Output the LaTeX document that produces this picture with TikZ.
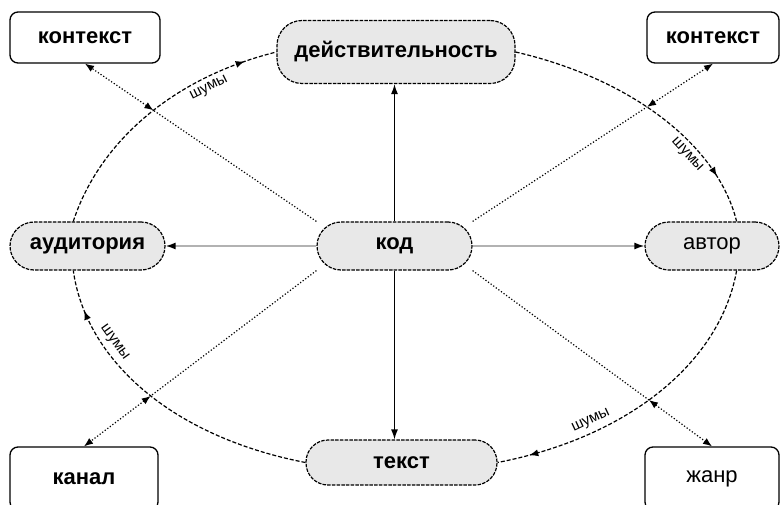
\documentclass[tikz,border=0pt]{standalone}
\usepackage{fontspec}
\setmainfont{Liberation Sans}
\usetikzlibrary{arrows.meta,intersections,decorations.markings}

\begin{document}
\begin{tikzpicture}[x=1pt, y=1pt,
  box/.style={draw, line width=1.3pt, rounded corners=8pt, fill=white, inner sep=0pt,
              font=\fontsize{22}{26}\selectfont\bfseries},
  pill/.style={draw, line width=1.2pt, dash pattern=on 3.5pt off 1.2pt, fill=black!9,
               rounded corners=24pt, minimum height=48pt, inner sep=0pt,
               font=\fontsize{22}{26}\selectfont\bfseries},
  noise/.style={line width=1.2pt, dash pattern=on 4pt off 2pt, postaction=decorate,
                decoration={markings, mark=at position #1 with {\arrow{Latex[length=9pt,width=7pt]}}}},
  note/.style={font=\fontsize{15}{17}\selectfont, sloped, inner sep=5pt},
  ray/.style={line width=1.2pt, dash pattern=on 1.2pt off 2pt},
  pair/.style={ray, {Latex[length=9pt,width=7pt]}-{Latex[length=9pt,width=7pt]}},
  axis/.style={line width=1.3pt, -{Latex[length=10pt,width=7pt]}},
  side/.style={line width=1.5pt, draw=black!30, -{Latex[length=10pt,width=7pt,color=black]}}
]
\useasboundingbox (0,0) rectangle (781,504);
\clip (0,0) rectangle (781,504);

% Top row
\node[box, minimum width=150pt, minimum height=51pt] (ctxL) at (85,466.5) {контекст};
\node[pill, minimum width=238pt, minimum height=63pt, rounded corners=25pt] (real) at (396,452) {действительность};
\node[box, minimum width=132pt, minimum height=51pt] (ctxR) at (713,466.5) {контекст};

% Middle row
\node[pill, minimum width=155pt] (aud) at (87.5,258) {аудитория};
\node[pill, minimum width=155pt] (kod) at (394.5,258) {код};
\node[pill, minimum width=134pt, font=\fontsize{22}{26}\selectfont] (avt) at (712,258) {автор};

% Bottom row
\node[box, minimum width=148pt, minimum height=63pt] (kanal) at (84,25.5) {канал};
\node[pill, minimum width=191pt, minimum height=45pt, rounded corners=22pt] (tekst) at (401.5,41.5) {текст};
\node[box, minimum width=134pt, minimum height=63pt, font=\fontsize{22}{26}\selectfont] (zhanr) at (712,25.5) {жанр};

% Ring of noise
\draw[noise=0.88, name path=arcTL] (aud.120) to[out=72, in=194, out looseness=0.75, in looseness=1.1]
  node[note, pos=0.76, below] {шумы} (real.west);
\draw[noise=0.83, name path=arcTR] (real.east) to[out=-13, in=104, out looseness=1.08, in looseness=0.73]
  node[note, pos=0.66, below] {шумы} (avt.45);
\draw[noise=0.9, name path=arcBR] (avt.-45) to[out=-100, in=11, out looseness=0.76, in looseness=1.14]
  node[note, pos=0.73, above] {шумы} (tekst.east);
\draw[noise=0.87, name path=arcBL] (tekst.west) to[out=169, in=-82, out looseness=1.16, in looseness=0.77]
  node[note, pos=0.69, above] {шумы} (aud.240);

% Axes from the code
\draw[axis] (kod.north) -- (kod.north |- real.south);
\draw[axis] (kod.south) -- (kod.south |- tekst.north);
\draw[side] (kod.west) -- (aud.east);
\draw[side] (kod.east) -- (avt.west);

% Diagonals through the ring
\path[name path=dTL] (kod.north west) -- (ctxL.south);
\path[name path=dTR] (kod.north east) -- (ctxR.south);
\path[name path=dBL] (kod.south west) -- (kanal.north);
\path[name path=dBR] (kod.south east) -- (zhanr.north);
\path[name intersections={of=arcTL and dTL, by=nTL}];
\path[name intersections={of=arcTR and dTR, by=nTR}];
\path[name intersections={of=arcBL and dBL, by=nBL}];
\path[name intersections={of=arcBR and dBR, by=nBR}];
\draw[ray] (kod.north west) -- (nTL);
\draw[ray] (kod.north east) -- (nTR);
\draw[ray] (kod.south west) -- (nBL);
\draw[ray] (kod.south east) -- (nBR);
\draw[pair] (nTL) -- (ctxL.south);
\draw[pair] (nTR) -- (ctxR.south);
\draw[pair] (nBL) -- (kanal.north);
\draw[pair] (nBR) -- (zhanr.north);
\end{tikzpicture}
\end{document}
